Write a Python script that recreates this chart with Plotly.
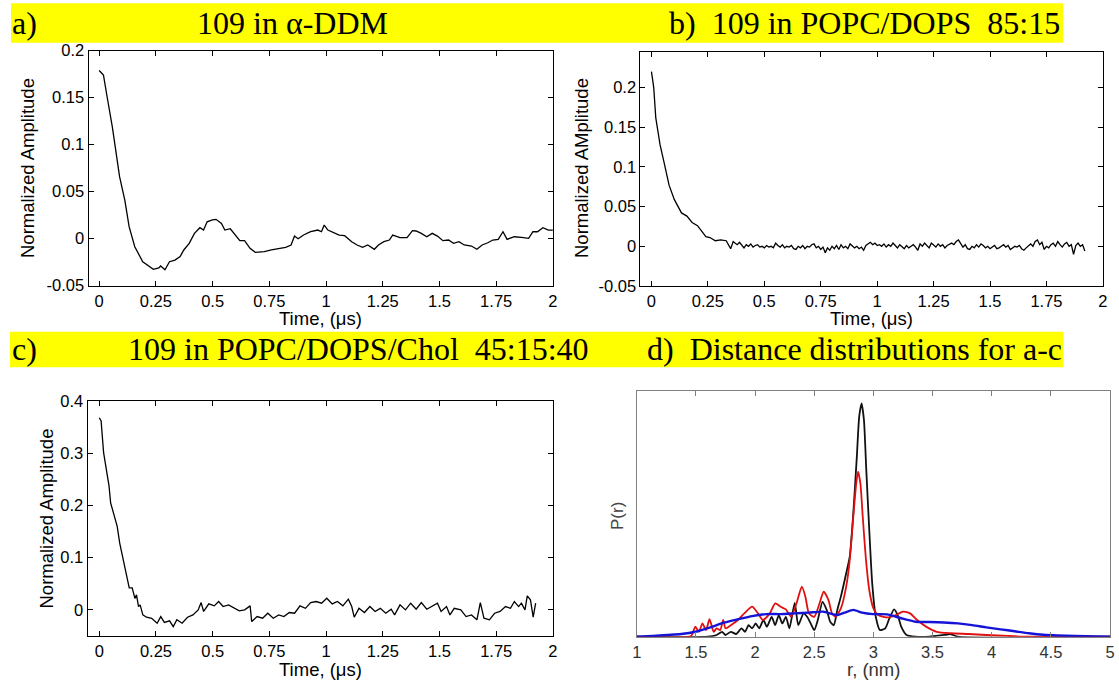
import plotly.graph_objects as go

# ---------------- data ----------------
a_time = [0, 0.019, 0.035, 0.058, 0.090, 0.113, 0.132, 0.157, 0.192, 0.239,
          0.263, 0.271, 0.290, 0.310, 0.334, 0.357, 0.373, 0.397, 0.420, 0.444,
          0.460, 0.476, 0.499, 0.515, 0.539, 0.554, 0.578, 0.602, 0.620, 0.641,
          0.665, 0.688, 0.728, 0.759, 0.791, 0.822, 0.846, 0.861, 0.877, 0.901,
          0.932, 0.964, 0.980, 0.992, 1.008, 1.035, 1.058, 1.082, 1.113, 1.137,
          1.161, 1.184, 1.213, 1.231, 1.255, 1.279, 1.294, 1.326, 1.357, 1.381,
          1.397, 1.420, 1.444, 1.468, 1.491, 1.515, 1.540, 1.562, 1.586, 1.609,
          1.641, 1.665, 1.688, 1.713, 1.735, 1.759, 1.780, 1.798, 1.830, 1.861,
          1.893, 1.912, 1.932, 1.956, 1.980, 2.0]
a_amp = [0.179, 0.174, 0.151, 0.119, 0.066, 0.041, 0.0128, -0.0085, -0.0245, -0.0326,
         -0.031, -0.029, -0.033, -0.0245, -0.0227, -0.019, -0.012, -0.005, 0.0057, 0.0117,
         0.0092, 0.018, 0.020, 0.0206, 0.0163, 0.0092, 0.0106, 0.0039, -0.0021, -0.0021,
         -0.0103, -0.0145, -0.0138, -0.012, -0.0103, -0.0092, -0.0067, 0.0028, 0.0, 0.0039,
         0.0074, 0.0092, 0.0074, 0.0145, 0.0092, 0.0064, 0.0039, 0.0032, -0.0032, -0.0067,
         -0.0092, -0.0067, -0.0113, -0.0067, -0.0032, -0.0014, 0.0039, 0.0011, 0.0011, 0.0085,
         0.0082, 0.0057, 0.0021, 0.0057, 0.0028, -0.0021, -0.0014, -0.005, -0.0032, -0.0067,
         -0.0078, -0.0113, -0.0067, -0.0043, -0.0014, -0.0007, 0.0074, -0.0007, 0.0021, 0.0014,
         0.0004, 0.0074, 0.0074, 0.0117, 0.0092, 0.0092]

b_time = [0, 0.01, 0.019, 0.038, 0.057, 0.078, 0.101, 0.133, 0.157, 0.18,
          0.204, 0.22, 0.241, 0.259, 0.283, 0.307, 0.331, 0.351, 0.362,
          0.37, 0.38, 0.39, 0.40, 0.41, 0.42, 0.43, 0.44, 0.45, 0.46,
          0.47, 0.48, 0.49, 0.50, 0.51, 0.52, 0.53, 0.54, 0.55, 0.56,
          0.57, 0.58, 0.59, 0.60, 0.61, 0.62, 0.63, 0.64, 0.65, 0.66,
          0.67, 0.68, 0.69, 0.70, 0.71, 0.72, 0.73, 0.74, 0.75, 0.76,
          0.77, 0.78, 0.79, 0.80, 0.81, 0.82, 0.83, 0.84, 0.85, 0.86,
          0.87, 0.88, 0.89, 0.90, 0.91, 0.92, 0.93, 0.94, 0.95, 0.96,
          0.97, 0.98, 0.99, 1.00, 1.01, 1.02, 1.03, 1.04, 1.05, 1.06,
          1.07, 1.08, 1.09, 1.10, 1.11, 1.12, 1.13, 1.14, 1.15, 1.16,
          1.17, 1.18, 1.19, 1.20, 1.21, 1.22, 1.23, 1.24, 1.25, 1.26,
          1.27, 1.28, 1.29, 1.30, 1.31, 1.32, 1.33, 1.34, 1.35, 1.36,
          1.37, 1.38, 1.39, 1.40, 1.41, 1.42, 1.43, 1.44, 1.45, 1.46,
          1.47, 1.48, 1.49, 1.50, 1.51, 1.52, 1.53, 1.54, 1.55, 1.56,
          1.57, 1.58, 1.59, 1.60, 1.61, 1.62, 1.63, 1.64, 1.65, 1.66,
          1.67, 1.68, 1.69, 1.70, 1.71, 1.72, 1.73, 1.74, 1.75, 1.76,
          1.77, 1.78, 1.79, 1.80, 1.81, 1.82, 1.83, 1.84, 1.85, 1.86,
          1.87, 1.88, 1.89, 1.90, 1.91, 1.92]
b_amp = [0.22, 0.2, 0.162, 0.128, 0.104, 0.077, 0.059, 0.042, 0.038, 0.03,
         0.026, 0.02, 0.012, 0.011, 0.007, 0.008, 0.007, -0.003, 0.006,
         0.004, 0.002, 0.005, 0.001, -0.002, 0.002, 0.0, 0.003, -0.001, 0.001,
         0.002, -0.001, 0.0, -0.002, 0.001, -0.001, 0.0, -0.002, 0.004, 0.001,
         -0.001, 0.002, -0.002, 0.0, -0.001, 0.001, -0.003, -0.004, 0.0, -0.002,
         0.001, -0.003, 0.0, -0.001, 0.002, 0.003, -0.002, 0.0, -0.004, -0.001,
         -0.008, -0.002, -0.005, 0.0, -0.003, 0.001, -0.004, 0.002, -0.002, 0.0,
         -0.003, 0.003, 0.001, -0.002, 0.0, -0.003, -0.001, -0.005, 0.001, 0.003,
         0.005, 0.002, 0.004, 0.001, 0.002, 0.0, 0.003, -0.001, 0.002, 0.0,
         0.004, 0.001, -0.002, 0.002, 0.0, -0.003, 0.001, -0.002, 0.0, 0.002,
         -0.001, -0.005, 0.003, 0.0, 0.004, 0.001, -0.002, 0.004, 0.002, -0.001,
         0.003, 0.0, 0.002, -0.002, 0.001, 0.003, 0.004, 0.002, 0.006, 0.008,
         0.003, -0.001, 0.002, -0.003, -0.004, 0.0, -0.002, 0.002, -0.001, 0.003,
         0.001, -0.002, 0.0, -0.003, -0.001, 0.001, -0.003, -0.002, 0.0, 0.002,
         -0.001, 0.001, -0.004, -0.002, 0.0, -0.001, 0.001, -0.003, -0.005, -0.002,
         0.001, 0.003, 0.0, 0.006, 0.008, 0.002, 0.005, -0.004, 0.0, -0.002,
         0.002, 0.004, 0.0, 0.006, 0.002, -0.001, 0.003, 0.005, 0.0, 0.002,
         -0.010, 0.001, 0.004, 0.0, 0.002, -0.006]

c_time = [0, 0.008, 0.019, 0.031, 0.043, 0.050, 0.066, 0.079, 0.090, 0.106,
          0.121, 0.132, 0.145, 0.157, 0.164, 0.173, 0.180, 0.192, 0.208, 0.231,
          0.255, 0.271, 0.287, 0.310, 0.326, 0.342, 0.365, 0.389, 0.413, 0.436,
          0.449, 0.460, 0.483, 0.507, 0.526, 0.546, 0.570, 0.594, 0.617, 0.641,
          0.665, 0.672, 0.696, 0.720, 0.743, 0.767, 0.791, 0.814, 0.838, 0.861,
          0.885, 0.909, 0.932, 0.956, 0.980, 1.003, 1.027, 1.050, 1.074, 1.098,
          1.113, 1.124, 1.145, 1.169, 1.193, 1.216, 1.239, 1.263, 1.287, 1.302,
          1.326, 1.350, 1.373, 1.397, 1.420, 1.444, 1.468, 1.491, 1.507, 1.531,
          1.546, 1.565, 1.594, 1.617, 1.641, 1.665, 1.680, 1.696, 1.720, 1.743,
          1.767, 1.791, 1.813, 1.830, 1.849, 1.861, 1.877, 1.887, 1.901, 1.913,
          1.924]
c_amp = [0.368, 0.362, 0.301, 0.269, 0.237, 0.205, 0.179, 0.160, 0.128, 0.096,
         0.070, 0.042, 0.042, 0.022, 0.029, 0.0064, 0.0096, -0.0096, -0.014, -0.016,
         -0.0256, -0.0128, -0.024, -0.021, -0.032, -0.019, -0.0256, -0.014, -0.0096, 0.0,
         0.014, -0.003, 0.0115, 0.0077, 0.016, 0.0064, 0.0096, 0.003, -0.002, 0.0,
         0.0077, -0.0224, -0.0128, -0.016, -0.0064, -0.016, -0.0096, -0.0128, -0.0051, -0.0064,
         0.0077, 0.003, 0.014, 0.016, 0.0128, 0.0224, 0.0115, 0.016, 0.0077, 0.0205,
         0.0064, -0.014, 0.003, -0.0051, 0.0064, -0.003, 0.003, -0.0064, 0.0013, -0.0096,
         0.0096, 0.0, 0.0128, 0.0013, 0.014, 0.0013, 0.0077, 0.0128, -0.003, 0.0064,
         -0.0096, 0.003, 0.0, -0.0128, -0.0096, -0.019, 0.014, -0.016, -0.019, -0.0064,
         -0.003, 0.0064, 0.003, 0.016, 0.0064, 0.0128, 0.0, 0.0269, 0.0192, -0.014,
         0.0128]

d_r_black = [1.0, 1.6, 1.675, 1.72, 1.75, 1.795, 1.84, 1.885, 1.915, 1.945,
             1.975, 2.005, 2.035, 2.07, 2.10, 2.14, 2.17, 2.20, 2.23, 2.26,
             2.29, 2.335, 2.365, 2.41, 2.44, 2.47, 2.50, 2.53, 2.57, 2.605,
             2.635, 2.665, 2.695, 2.725, 2.77, 2.80, 2.83, 2.86, 2.88, 2.90,
             2.92, 2.94, 2.965, 2.99, 3.02, 3.055, 3.10, 3.13, 3.175, 3.205,
             3.235, 3.28, 3.355, 3.475, 3.595, 3.655, 3.715, 5.0]
d_p_black = [0, 0, 0.007, 0.02, 0.007, 0.02, 0.011, 0.034, 0.02, 0.047,
             0.034, 0.054, 0.034, 0.068, 0.041, 0.081, 0.047, 0.088, 0.054, 0.081,
             0.034, 0.138, 0.047, 0.095, 0.081, 0.054, 0.027, 0.068, 0.142, 0.109,
             0.061, 0.047, 0.109, 0.163, 0.258, 0.326, 0.502, 0.733, 0.896, 0.95,
             0.882, 0.678, 0.434, 0.217, 0.081, 0.027, 0.034, 0.068, 0.111, 0.088,
             0.041, 0.007, 0, 0, 0.007, 0.01, 0, 0]

d_r_red = [1.0, 1.45, 1.465, 1.495, 1.525, 1.555, 1.585, 1.615, 1.65, 1.675,
           1.705, 1.73, 1.75, 1.795, 1.855, 1.915, 1.975, 2.02, 2.065, 2.125,
           2.17, 2.215, 2.26, 2.305, 2.35, 2.395, 2.425, 2.455, 2.50, 2.545,
           2.58, 2.62, 2.65, 2.68, 2.725, 2.77, 2.80, 2.83, 2.855, 2.87,
           2.89, 2.91, 2.935, 2.965, 3.00, 3.04, 3.085, 3.13, 3.19, 3.25,
           3.31, 3.37, 3.445, 3.535, 3.655, 3.805, 3.955, 4.135, 4.315, 5.0]
d_p_red = [0, 0, 0.007, 0.041, 0.02, 0.054, 0.027, 0.071, 0.02, 0.034,
           0.027, 0.068, 0.034, 0.047, 0.068, 0.098, 0.122, 0.098, 0.068, 0.095,
           0.136, 0.122, 0.111, 0.081, 0.136, 0.204, 0.163, 0.095, 0.081, 0.136,
           0.183, 0.149, 0.095, 0.081, 0.115, 0.204, 0.312, 0.488, 0.624, 0.672,
           0.624, 0.488, 0.326, 0.190, 0.115, 0.088, 0.081, 0.079, 0.088, 0.102,
           0.095, 0.068, 0.041, 0.02, 0.014, 0.011, 0.007, 0.003, 0, 0]

d_r_blue = [1.0, 1.135, 1.255, 1.375, 1.495, 1.615, 1.735, 1.855, 1.975, 2.095,
            2.215, 2.335, 2.455, 2.575, 2.695, 2.755, 2.83, 2.905, 2.995, 3.115,
            3.235, 3.355, 3.475, 3.595, 3.715, 3.835, 3.955, 4.075, 4.195, 4.315,
            4.435, 4.555, 4.705, 5.0]
d_p_blue = [0, 0.003, 0.007, 0.011, 0.02, 0.037, 0.057, 0.071, 0.084, 0.092,
            0.092, 0.095, 0.098, 0.102, 0.088, 0.098, 0.109, 0.098, 0.092, 0.091,
            0.075, 0.061, 0.06, 0.058, 0.054, 0.047, 0.038, 0.03, 0.022, 0.014,
            0.008, 0.005, 0.003, 0]

time_tickvals = [0, 0.25, 0.5, 0.75, 1, 1.25, 1.5, 1.75, 2]
time_ticktext = ["0", "0.25", "0.5", "0.75", "1", "1.25", "1.5", "1.75", "2"]
ab_yvals = [-0.05, 0, 0.05, 0.1, 0.15, 0.2]
ab_ytext = ["-0.05", "0", "0.05", "0.1", "0.15", "0.2"]
c_yvals = [0, 0.1, 0.2, 0.3, 0.4]
c_ytext = ["0", "0.1", "0.2", "0.3", "0.4"]
r_tickvals = [1, 1.5, 2, 2.5, 3, 3.5, 4, 4.5, 5]
r_ticktext = ["1", "1.5", "2", "2.5", "3", "3.5", "4", "4.5", "5"]

NB = "\u00a0"
head_top_left = ["a)", "109 in α-DDM"]
head_top_right = "b)" + NB * 2 + "109 in POPC/DOPS" + NB * 2 + "85:15"
head_bot_left = ["c)", "109 in POPC/DOPS/Chol" + NB * 2 + "45:15:40"]
head_bot_right = "d)" + NB * 2 + "Distance distributions for a-c"
time_title = "Time, (μs)"
amp_title = "Normalized Amplitude"
amp_title_b = "Normalized AMplitude"
r_title = "r, (nm)"
p_title = "P(r)"

# ---------------- figure ----------------
W, H = 1119, 684
SANS = "Liberation Sans, Arial, sans-serif"
SERIF = "Liberation Serif, Times New Roman, serif"
TICK_SIZE = 16.5
TITLE_SIZE = 18.5


def px_x(v):
    return v / W


def px_y(v):
    return 1 - v / H


fig = go.Figure()
line_k = dict(color="black", width=1.3)
fig.add_trace(go.Scatter(x=a_time, y=a_amp, mode="lines", line=line_k, xaxis="x", yaxis="y", showlegend=False))
fig.add_trace(go.Scatter(x=b_time, y=b_amp, mode="lines", line=line_k, xaxis="x2", yaxis="y2", showlegend=False))
fig.add_trace(go.Scatter(x=c_time, y=c_amp, mode="lines", line=line_k, xaxis="x3", yaxis="y3", showlegend=False))
fig.add_trace(go.Scatter(x=d_r_black, y=d_p_black, mode="lines", line=dict(color="#111111", width=1.8, shape="spline", smoothing=0.6),
                         xaxis="x4", yaxis="y4", showlegend=False))
fig.add_trace(go.Scatter(x=d_r_red, y=d_p_red, mode="lines", line=dict(color="#e01010", width=1.8, shape="spline", smoothing=0.6),
                         xaxis="x4", yaxis="y4", showlegend=False))
fig.add_trace(go.Scatter(x=d_r_blue, y=d_p_blue, mode="lines", line=dict(color="#1414d8", width=2.4, shape="spline", smoothing=0.6),
                         xaxis="x4", yaxis="y4", showlegend=False))

tickfont = dict(family=SANS, size=TICK_SIZE, color="black")


def xax(domain, rng, vals, text, anchor, color="black", tfcolor="black"):
    return dict(domain=domain, range=rng, tickmode="array", tickvals=vals, ticktext=text, anchor=anchor,
                ticks="inside", ticklen=5, tickcolor=color, showline=True, linecolor=color, linewidth=1,
                mirror="ticks", showgrid=False, zeroline=False,
                tickfont=dict(family=SANS, size=TICK_SIZE, color=tfcolor))


def yax(domain, rng, vals, text, anchor):
    return dict(domain=domain, range=rng, tickmode="array", tickvals=vals, ticktext=text,
                ticks="inside", ticklen=5, tickcolor="black", showline=True, linecolor="black", linewidth=1,
                mirror="ticks", showgrid=False, zeroline=False, tickfont=tickfont, anchor=anchor)


xa = xax([px_x(88.5), px_x(552.9)], [-0.047, 2], time_tickvals, time_ticktext, "y")
xb = xax([px_x(640.4), px_x(1102.9)], [-0.049, 2], time_tickvals, time_ticktext, "y2")
xc = xax([px_x(87.5), px_x(552.9)], [-0.052, 2], time_tickvals, time_ticktext, "y3")
xd = xax([px_x(636.8), px_x(1110)], [1, 5], r_tickvals, r_ticktext, "y4", color="#808080", tfcolor="#333333")

ya = yax([px_y(285.7), px_y(50.7)], [-0.05, 0.2], ab_yvals, ab_ytext, "x")
yb = yax([px_y(286), px_y(51.7)], [-0.05, 0.245], ab_yvals, ab_ytext, "x2")
yc = yax([px_y(636), px_y(401)], [-0.05, 0.4], c_yvals, c_ytext, "x3")
yd = dict(domain=[px_y(636.7), px_y(391)], range=[0, 1], anchor="x4", showticklabels=False, ticks="",
          showline=True, linecolor="#808080", linewidth=1, mirror=True, showgrid=False, zeroline=False)

shapes = [
    dict(type="rect", xref="paper", yref="paper", x0=px_x(11), x1=px_x(1063), y0=px_y(42.7), y1=px_y(3.3),
         fillcolor="#ffff00", line=dict(width=0), layer="below"),
    dict(type="rect", xref="paper", yref="paper", x0=px_x(10), x1=px_x(1063.6), y0=px_y(367.3), y1=px_y(331.7),
         fillcolor="#ffff00", line=dict(width=0), layer="below"),
]

hfont = dict(family=SERIF, size=32, color="black")
tfont = dict(family=SANS, size=TITLE_SIZE, color="black")
tfont_d = dict(family=SANS, size=TITLE_SIZE, color="#333333")


def ann(text, x, y, xanchor="center", font=hfont, angle=0):
    return dict(text=text, x=px_x(x), y=px_y(y), xref="paper", yref="paper", xanchor=xanchor, yanchor="middle",
                showarrow=False, font=font, textangle=angle)


annotations = [
    ann(head_top_left[0], 10, 23, "left"),
    ann(head_top_left[1], 292, 23),
    ann(head_top_right, 1062, 23, "right"),
    ann(head_bot_left[0], 10, 349, "left"),
    ann(head_bot_left[1], 126, 349, "left"),
    ann(head_bot_right, 1064, 349, "right"),
    # axis titles
    ann(time_title, 320, 318.5, font=tfont),
    ann(time_title, 871, 318.5, font=tfont),
    ann(time_title, 320.5, 669.5, font=tfont),
    ann(r_title, 873.5, 669.5, font=tfont_d),
    ann(amp_title, 27, 168, font=tfont, angle=-90),
    ann(amp_title_b, 581, 168, font=tfont, angle=-90),
    ann(amp_title, 45.5, 519, font=tfont, angle=-90),
    ann(p_title, 617.5, 516.5, font=dict(family=SANS, size=17, color="#444444"), angle=-90),
]

fig.update_layout(
    width=W, height=H, margin=dict(l=0, r=0, t=0, b=0, autoexpand=False),
    paper_bgcolor="white", plot_bgcolor="white",
    xaxis=xa, yaxis=ya, xaxis2=xb, yaxis2=yb, xaxis3=xc, yaxis3=yc, xaxis4=xd, yaxis4=yd,
    shapes=shapes, annotations=annotations, showlegend=False,
)

fig.write_html("out.html", config={"displayModeBar": False},
               post_script="document.body.style.margin='0px';document.body.style.overflow='hidden';")
